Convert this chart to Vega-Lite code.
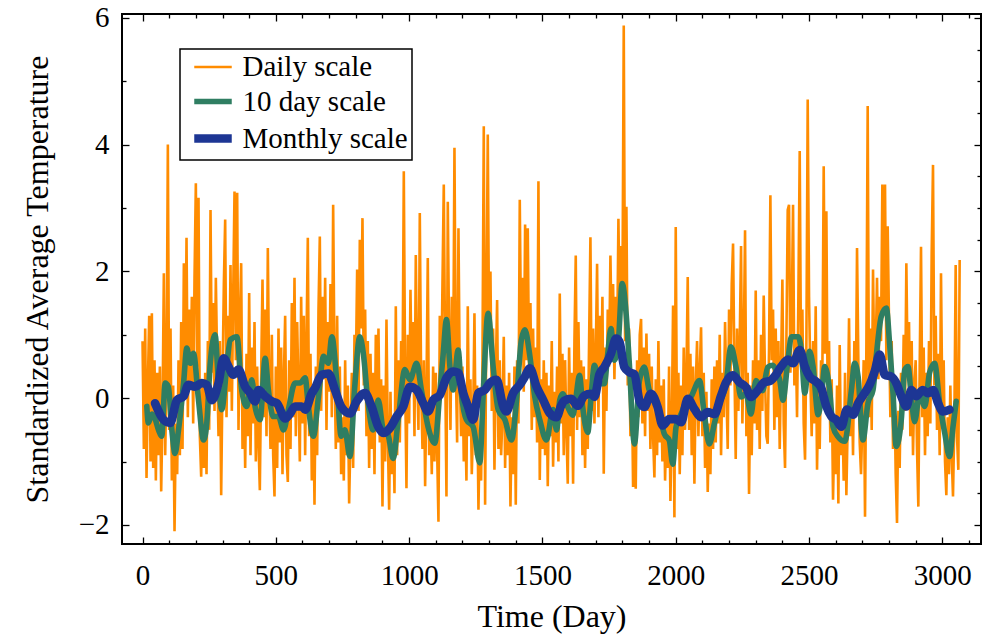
{
"$schema":"https://vega.github.io/schema/vega-lite/v6.json",
"width":859,"height":530,
"autosize":{"type":"none"},
"padding":{"left":122,"top":14,"right":6,"bottom":94},
"background":"white",
"config":{"view":{"stroke":"black","strokeWidth":2},
"legend":{"strokeWidth":1.5},
"axis":{"domain":false,"grid":false,"tickColor":"black","tickWidth":1.3,"labelFont":"Liberation Serif","labelFontSize":29,"labelColor":"black","titleFont":"Liberation Serif","titleFontSize":32,"titleFontWeight":"normal","titleColor":"black"}},
"datasets":{
"daily":[{"d":0,"v":0.9},{"d":5,"v":-0.8},{"d":10,"v":1.1},{"d":15,"v":-1.26},{"d":20,"v":0.2},{"d":25,"v":1.3},{"d":30,"v":-1.0},{"d":35,"v":1.34},{"d":40,"v":-1.1},{"d":45,"v":0.6},
{"d":50,"v":-1.3},{"d":55,"v":0.4},{"d":60,"v":-0.9},{"d":65,"v":0.5},{"d":70,"v":-1.47},{"d":75,"v":-0.2},{"d":80,"v":1.97},{"d":85,"v":-0.9},{"d":90,"v":0.3},{"d":95,"v":4.0},
{"d":100,"v":-0.5},{"d":105,"v":1.1},{"d":110,"v":-1.3},{"d":115,"v":0.2},{"d":120,"v":-2.1},{"d":125,"v":-0.4},{"d":130,"v":-1.2},{"d":135,"v":0.6},{"d":140,"v":-0.9},{"d":145,"v":1.2},
{"d":150,"v":-0.8},{"d":155,"v":2.13},{"d":160,"v":0.1},{"d":165,"v":2.53},{"d":170,"v":-0.3},{"d":175,"v":1.4},{"d":180,"v":0.2},{"d":185,"v":1.6},{"d":190,"v":-0.4},{"d":195,"v":1.9},
{"d":200,"v":3.39},{"d":205,"v":0.5},{"d":210,"v":3.16},{"d":215,"v":-0.6},{"d":220,"v":-1.24},{"d":225,"v":0.3},{"d":230,"v":-1.1},{"d":235,"v":0.4},{"d":240,"v":-1.2},{"d":245,"v":0.9},
{"d":250,"v":-0.5},{"d":255,"v":2.97},{"d":260,"v":0.4},{"d":265,"v":1.5},{"d":270,"v":-0.2},{"d":275,"v":1.9},{"d":280,"v":0.5},{"d":285,"v":-0.6},{"d":290,"v":0.9},{"d":295,"v":-1.53},
{"d":300,"v":0.3},{"d":305,"v":1.8},{"d":310,"v":2.82},{"d":315,"v":-0.3},{"d":320,"v":1.3},{"d":325,"v":0.1},{"d":330,"v":2.1},{"d":335,"v":-0.2},{"d":340,"v":1.6},{"d":345,"v":3.26},
{"d":350,"v":0.6},{"d":355,"v":3.24},{"d":360,"v":-0.5},{"d":365,"v":1.2},{"d":370,"v":2.13},{"d":375,"v":-0.8},{"d":380,"v":0.4},{"d":385,"v":-1.1},{"d":390,"v":0.7},{"d":395,"v":-0.6},
{"d":400,"v":1.66},{"d":405,"v":-0.9},{"d":410,"v":0.8},{"d":415,"v":-0.4},{"d":420,"v":1.2},{"d":425,"v":-1.0},{"d":430,"v":0.5},{"d":435,"v":-0.7},{"d":440,"v":-1.45},{"d":445,"v":0.4},
{"d":450,"v":1.87},{"d":455,"v":-0.3},{"d":460,"v":1.4},{"d":465,"v":-0.6},{"d":470,"v":2.37},{"d":475,"v":0.2},{"d":480,"v":-0.8},{"d":485,"v":1.0},{"d":490,"v":-0.9},{"d":495,"v":-1.55},
{"d":500,"v":0.5},{"d":505,"v":-1.1},{"d":510,"v":1.1},{"d":515,"v":-0.7},{"d":520,"v":0.8},{"d":525,"v":-1.2},{"d":530,"v":0.3},{"d":535,"v":1.3},{"d":540,"v":-0.9},{"d":545,"v":-1.32},
{"d":550,"v":0.6},{"d":555,"v":-0.8},{"d":560,"v":1.5},{"d":565,"v":-0.3},{"d":570,"v":1.9},{"d":575,"v":-0.6},{"d":580,"v":1.2},{"d":585,"v":0.1},{"d":590,"v":-1.0},{"d":595,"v":1.6},
{"d":600,"v":-0.4},{"d":605,"v":1.3},{"d":610,"v":-0.9},{"d":615,"v":0.9},{"d":620,"v":2.53},{"d":625,"v":-0.6},{"d":630,"v":0.7},{"d":635,"v":-1.3},{"d":640,"v":0.2},{"d":645,"v":-1.68},
{"d":650,"v":0.5},{"d":655,"v":-0.9},{"d":660,"v":1.4},{"d":665,"v":2.55},{"d":670,"v":-0.2},{"d":675,"v":1.6},{"d":680,"v":0.3},{"d":685,"v":1.9},{"d":690,"v":-0.5},{"d":695,"v":1.2},
{"d":700,"v":0.1},{"d":705,"v":1.8},{"d":710,"v":-0.3},{"d":715,"v":3.05},{"d":720,"v":0.6},{"d":725,"v":-0.8},{"d":730,"v":1.3},{"d":735,"v":-0.7},{"d":740,"v":0.5},{"d":745,"v":-1.2},
{"d":750,"v":-0.3},{"d":755,"v":-1.3},{"d":760,"v":0.6},{"d":765,"v":-0.9},{"d":770,"v":0.2},{"d":775,"v":-1.66},{"d":780,"v":-0.6},{"d":785,"v":0.4},{"d":790,"v":-1.1},{"d":795,"v":1.0},
{"d":800,"v":0.4},{"d":805,"v":2.03},{"d":810,"v":-0.2},{"d":815,"v":2.5},{"d":820,"v":1.1},{"d":825,"v":2.84},{"d":830,"v":0.2},{"d":835,"v":1.4},{"d":840,"v":-0.6},{"d":845,"v":0.9},
{"d":850,"v":-1.1},{"d":855,"v":0.7},{"d":860,"v":-0.8},{"d":865,"v":0.4},{"d":870,"v":-1.2},{"d":875,"v":1.0},{"d":880,"v":-0.5},{"d":885,"v":1.1},{"d":890,"v":-0.7},{"d":895,"v":0.3},
{"d":900,"v":-1.71},{"d":905,"v":0.2},{"d":910,"v":-1.0},{"d":915,"v":1.24},{"d":920,"v":-0.6},{"d":925,"v":-1.76},{"d":930,"v":0.1},{"d":935,"v":-1.2},{"d":940,"v":-0.3},{"d":945,"v":-1.5},
{"d":950,"v":1.45},{"d":955,"v":-0.9},{"d":960,"v":0.6},{"d":965,"v":-0.7},{"d":970,"v":0.9},{"d":975,"v":0.1},{"d":980,"v":3.58},{"d":985,"v":0.3},{"d":990,"v":-1.42},{"d":995,"v":1.0},
{"d":1000,"v":-0.4},{"d":1005,"v":1.71},{"d":1010,"v":0.1},{"d":1015,"v":1.2},{"d":1020,"v":-0.6},{"d":1025,"v":2.26},{"d":1030,"v":0.4},{"d":1035,"v":-0.5},{"d":1040,"v":2.92},{"d":1045,"v":0.2},
{"d":1050,"v":-0.8},{"d":1055,"v":0.6},{"d":1060,"v":-1.39},{"d":1065,"v":0.1},{"d":1070,"v":2.21},{"d":1075,"v":-0.9},{"d":1080,"v":-0.2},{"d":1085,"v":-1.2},{"d":1090,"v":0.5},{"d":1095,"v":-1.0},
{"d":1100,"v":0.4},{"d":1105,"v":-0.8},{"d":1110,"v":-1.95},{"d":1115,"v":1.3},{"d":1120,"v":0.1},{"d":1125,"v":1.8},{"d":1130,"v":3.37},{"d":1135,"v":0.6},{"d":1140,"v":-1.55},{"d":1145,"v":3.1},
{"d":1150,"v":0.9},{"d":1155,"v":-0.5},{"d":1160,"v":1.6},{"d":1165,"v":0.2},{"d":1170,"v":3.95},{"d":1175,"v":0.5},{"d":1180,"v":-0.7},{"d":1185,"v":2.68},{"d":1190,"v":0.3},{"d":1195,"v":-0.6},
{"d":1200,"v":0.5},{"d":1205,"v":-1.0},{"d":1210,"v":-0.2},{"d":1215,"v":-1.3},{"d":1220,"v":1.45},{"d":1225,"v":-0.6},{"d":1230,"v":0.3},{"d":1235,"v":-1.2},{"d":1240,"v":-0.4},{"d":1245,"v":1.34},
{"d":1250,"v":-0.9},{"d":1255,"v":0.2},{"d":1260,"v":-1.76},{"d":1265,"v":-0.5},{"d":1270,"v":-1.3},{"d":1275,"v":0.6},{"d":1280,"v":4.29},{"d":1285,"v":-1.68},{"d":1290,"v":1.5},{"d":1295,"v":4.16},
{"d":1300,"v":0.9},{"d":1305,"v":2.0},{"d":1310,"v":-0.2},{"d":1315,"v":1.1},{"d":1320,"v":-1.13},{"d":1325,"v":0.4},{"d":1330,"v":1.55},{"d":1335,"v":-0.8},{"d":1340,"v":0.6},{"d":1345,"v":-0.9},
{"d":1350,"v":-0.3},{"d":1355,"v":0.97},{"d":1360,"v":-1.1},{"d":1365,"v":0.2},{"d":1370,"v":-0.9},{"d":1375,"v":0.4},{"d":1380,"v":-1.71},{"d":1385,"v":-0.3},{"d":1390,"v":-1.2},{"d":1395,"v":0.5},
{"d":1400,"v":-1.68},{"d":1405,"v":0.6},{"d":1410,"v":-0.4},{"d":1415,"v":3.13},{"d":1420,"v":0.8},{"d":1425,"v":1.9},{"d":1430,"v":0.1},{"d":1435,"v":2.74},{"d":1440,"v":0.6},{"d":1445,"v":2.68},
{"d":1450,"v":0.4},{"d":1455,"v":1.5},{"d":1460,"v":-0.5},{"d":1465,"v":1.1},{"d":1470,"v":-0.3},{"d":1475,"v":0.8},{"d":1480,"v":-0.7},{"d":1485,"v":3.42},{"d":1490,"v":-1.29},{"d":1495,"v":0.3},
{"d":1500,"v":-0.8},{"d":1505,"v":0.6},{"d":1510,"v":-0.9},{"d":1515,"v":0.4},{"d":1520,"v":-1.39},{"d":1525,"v":0.2},{"d":1530,"v":-0.6},{"d":1535,"v":0.9},{"d":1540,"v":-1.08},{"d":1545,"v":0.1},
{"d":1550,"v":-0.7},{"d":1555,"v":0.5},{"d":1560,"v":-1.0},{"d":1565,"v":1.65},{"d":1570,"v":-0.4},{"d":1575,"v":0.7},{"d":1580,"v":-0.9},{"d":1585,"v":0.6},{"d":1590,"v":-0.5},{"d":1595,"v":-1.35},
{"d":1600,"v":0.8},{"d":1605,"v":-0.6},{"d":1610,"v":0.4},{"d":1615,"v":-1.35},{"d":1620,"v":0.9},{"d":1625,"v":2.25},{"d":1630,"v":-0.5},{"d":1635,"v":1.2},{"d":1640,"v":-0.3},{"d":1645,"v":0.6},
{"d":1650,"v":-0.9},{"d":1655,"v":0.5},{"d":1660,"v":-1.1},{"d":1665,"v":0.3},{"d":1670,"v":-0.8},{"d":1675,"v":0.9},{"d":1680,"v":2.54},{"d":1685,"v":-0.2},{"d":1690,"v":1.1},{"d":1695,"v":-0.4},
{"d":1700,"v":0.7},{"d":1705,"v":2.12},{"d":1710,"v":-0.3},{"d":1715,"v":1.3},{"d":1720,"v":0.2},{"d":1725,"v":1.6},{"d":1730,"v":-1.19},{"d":1735,"v":0.8},{"d":1740,"v":-0.2},{"d":1745,"v":1.4},
{"d":1750,"v":0.5},{"d":1755,"v":2.25},{"d":1760,"v":0.9},{"d":1765,"v":1.8},{"d":1770,"v":0.3},{"d":1775,"v":1.6},{"d":1780,"v":0.7},{"d":1785,"v":2.83},{"d":1790,"v":1.2},{"d":1795,"v":2.4},
{"d":1800,"v":1.5},{"d":1805,"v":5.88},{"d":1810,"v":0.9},{"d":1815,"v":3.02},{"d":1820,"v":0.2},{"d":1825,"v":1.1},{"d":1830,"v":-0.6},{"d":1835,"v":0.4},{"d":1840,"v":-1.4},{"d":1845,"v":-0.5},
{"d":1850,"v":-1.43},{"d":1855,"v":0.6},{"d":1860,"v":-0.3},{"d":1865,"v":1.0},{"d":1870,"v":1.25},{"d":1875,"v":-0.4},{"d":1880,"v":0.8},{"d":1885,"v":-0.6},{"d":1890,"v":1.02},{"d":1895,"v":-0.2},
{"d":1900,"v":0.7},{"d":1905,"v":-0.8},{"d":1910,"v":0.5},{"d":1915,"v":-0.6},{"d":1920,"v":-1.25},{"d":1925,"v":0.3},{"d":1930,"v":-0.9},{"d":1935,"v":0.9},{"d":1940,"v":-0.7},{"d":1945,"v":0.2},
{"d":1950,"v":-1.0},{"d":1955,"v":0.3},{"d":1960,"v":-1.3},{"d":1965,"v":-0.4},{"d":1970,"v":-1.1},{"d":1975,"v":0.5},{"d":1980,"v":-1.62},{"d":1985,"v":-0.5},{"d":1990,"v":1.46},{"d":1995,"v":-1.88},
{"d":2000,"v":2.7},{"d":2005,"v":-0.8},{"d":2010,"v":0.4},{"d":2015,"v":-1.2},{"d":2020,"v":0.2},{"d":2025,"v":-0.9},{"d":2030,"v":0.8},{"d":2035,"v":-0.5},{"d":2040,"v":0.3},{"d":2045,"v":1.91},
{"d":2050,"v":-0.5},{"d":2055,"v":0.7},{"d":2060,"v":-0.9},{"d":2065,"v":0.5},{"d":2070,"v":-1.35},{"d":2075,"v":0.2},{"d":2080,"v":0.9},{"d":2085,"v":-0.6},{"d":2090,"v":0.4},{"d":2095,"v":1.12},
{"d":2100,"v":-0.6},{"d":2105,"v":0.4},{"d":2110,"v":-1.1},{"d":2115,"v":0.1},{"d":2120,"v":-1.48},{"d":2125,"v":-0.4},{"d":2130,"v":-1.2},{"d":2135,"v":0.3},{"d":2140,"v":-0.8},{"d":2145,"v":0.5},
{"d":2150,"v":-0.7},{"d":2155,"v":0.6},{"d":2160,"v":-0.4},{"d":2165,"v":1.0},{"d":2170,"v":-0.9},{"d":2175,"v":0.4},{"d":2180,"v":-0.3},{"d":2185,"v":1.2},{"d":2190,"v":0.1},{"d":2195,"v":-0.8},
{"d":2200,"v":1.4},{"d":2205,"v":0.2},{"d":2210,"v":1.8},{"d":2215,"v":2.44},{"d":2220,"v":0.5},{"d":2225,"v":-0.96},{"d":2230,"v":1.1},{"d":2235,"v":-0.2},{"d":2240,"v":0.9},{"d":2245,"v":2.4},
{"d":2250,"v":-0.4},{"d":2255,"v":0.8},{"d":2260,"v":2.65},{"d":2265,"v":-0.6},{"d":2270,"v":0.4},{"d":2275,"v":-1.51},{"d":2280,"v":0.2},{"d":2285,"v":-0.9},{"d":2290,"v":0.6},{"d":2295,"v":-0.4},
{"d":2300,"v":1.7},{"d":2305,"v":-0.5},{"d":2310,"v":0.6},{"d":2315,"v":-0.8},{"d":2320,"v":1.0},{"d":2325,"v":-0.2},{"d":2330,"v":1.62},{"d":2335,"v":0.3},{"d":2340,"v":-0.6},{"d":2345,"v":-0.72},
{"d":2350,"v":0.8},{"d":2355,"v":3.2},{"d":2360,"v":0.6},{"d":2365,"v":1.4},{"d":2370,"v":-0.5},{"d":2375,"v":1.1},{"d":2380,"v":-0.3},{"d":2385,"v":0.9},{"d":2390,"v":-0.8},{"d":2395,"v":0.5},
{"d":2400,"v":1.87},{"d":2405,"v":-0.4},{"d":2410,"v":-1.1},{"d":2415,"v":0.9},{"d":2420,"v":2.97},{"d":2425,"v":3.05},{"d":2430,"v":0.4},{"d":2435,"v":1.3},{"d":2440,"v":3.05},{"d":2445,"v":0.2},
{"d":2450,"v":1.0},{"d":2455,"v":-0.3},{"d":2460,"v":1.6},{"d":2465,"v":3.9},{"d":2470,"v":0.5},{"d":2475,"v":1.4},{"d":2480,"v":-0.4},{"d":2485,"v":-0.97},{"d":2490,"v":0.8},{"d":2495,"v":4.71},
{"d":2500,"v":1.6},{"d":2505,"v":0.3},{"d":2510,"v":-0.6},{"d":2515,"v":0.9},{"d":2520,"v":-0.4},{"d":2525,"v":1.45},{"d":2530,"v":-1.13},{"d":2535,"v":0.2},{"d":2540,"v":-0.8},{"d":2545,"v":0.6},
{"d":2550,"v":0.4},{"d":2555,"v":3.66},{"d":2560,"v":0.7},{"d":2565,"v":2.95},{"d":2570,"v":-0.2},{"d":2575,"v":0.9},{"d":2580,"v":-0.7},{"d":2585,"v":0.3},{"d":2590,"v":-1.6},{"d":2595,"v":-0.5},
{"d":2600,"v":-1.2},{"d":2605,"v":0.2},{"d":2610,"v":-1.66},{"d":2615,"v":0.84},{"d":2620,"v":-0.9},{"d":2625,"v":-0.2},{"d":2630,"v":-1.3},{"d":2635,"v":0.4},{"d":2640,"v":-1.53},{"d":2645,"v":-0.4},
{"d":2650,"v":1.26},{"d":2655,"v":-0.6},{"d":2660,"v":0.5},{"d":2665,"v":-0.9},{"d":2670,"v":0.9},{"d":2675,"v":-0.2},{"d":2680,"v":2.37},{"d":2685,"v":0.6},{"d":2690,"v":-0.7},{"d":2695,"v":-1.2},
{"d":2700,"v":-0.4},{"d":2705,"v":0.6},{"d":2710,"v":-1.87},{"d":2715,"v":0.8},{"d":2720,"v":4.61},{"d":2725,"v":-0.3},{"d":2730,"v":1.1},{"d":2735,"v":-0.5},{"d":2740,"v":2.03},{"d":2745,"v":0.4},
{"d":2750,"v":0.7},{"d":2755,"v":1.9},{"d":2760,"v":0.3},{"d":2765,"v":1.6},{"d":2770,"v":0.9},{"d":2775,"v":3.37},{"d":2780,"v":1.4},{"d":2785,"v":3.37},{"d":2790,"v":0.6},{"d":2795,"v":2.71},
{"d":2800,"v":1.2},{"d":2805,"v":-0.3},{"d":2810,"v":0.9},{"d":2815,"v":-0.8},{"d":2820,"v":0.3},{"d":2825,"v":-1.2},{"d":2830,"v":-1.97},{"d":2835,"v":-0.2},{"d":2840,"v":-1.1},{"d":2845,"v":0.4},
{"d":2850,"v":-0.5},{"d":2855,"v":1.0},{"d":2860,"v":-0.2},{"d":2865,"v":2.13},{"d":2870,"v":0.4},{"d":2875,"v":1.2},{"d":2880,"v":-0.6},{"d":2885,"v":0.9},{"d":2890,"v":-0.9},{"d":2895,"v":0.2},
{"d":2900,"v":0.6},{"d":2905,"v":-0.8},{"d":2910,"v":-1.71},{"d":2915,"v":0.5},{"d":2920,"v":2.39},{"d":2925,"v":-0.3},{"d":2930,"v":0.8},{"d":2935,"v":-0.9},{"d":2940,"v":0.4},{"d":2945,"v":-0.6},
{"d":2950,"v":0.9},{"d":2955,"v":-0.4},{"d":2960,"v":2.29},{"d":2965,"v":3.68},{"d":2970,"v":0.2},{"d":2975,"v":1.3},{"d":2980,"v":-0.5},{"d":2985,"v":0.7},{"d":2990,"v":-0.9},{"d":2995,"v":1.97},
{"d":3000,"v":-0.2},{"d":3005,"v":0.6},{"d":3010,"v":-1.0},{"d":3015,"v":-1.53},{"d":3020,"v":-0.3},{"d":3025,"v":-1.2},{"d":3030,"v":0.2},{"d":3035,"v":-0.9},{"d":3040,"v":-1.55},{"d":3045,"v":-0.4},
{"d":3050,"v":2.1},{"d":3055,"v":-0.6},{"d":3060,"v":-1.13},{"d":3065,"v":2.18}],
"tenday":[{"d":16,"v":-0.13},{"d":22,"v":-0.39},{"d":35,"v":-0.25},{"d":45,"v":-0.3},{"d":60,"v":-0.5},{"d":72,"v":-0.6},{"d":85,"v":0.24},{"d":97,"v":0.18},{"d":110,"v":-0.5},{"d":122,"v":-0.87},{"d":135,"v":-0.5},{"d":154,"v":0.24},{"d":166,"v":0.79},{"d":179,"v":0.55},{"d":191,"v":0.71},{"d":210,"v":-0.03},{"d":229,"v":-0.66},{"d":241,"v":-0.39},{"d":254,"v":0.55},{"d":272,"v":1.0},{"d":285,"v":0.24},{"d":297,"v":-0.18},{"d":316,"v":0.5},{"d":329,"v":0.92},{"d":354,"v":0.97},{"d":372,"v":0.13},{"d":391,"v":-0.13},{"d":410,"v":0.29},{"d":422,"v":-0.13},{"d":441,"v":-0.34},{"d":460,"v":0.63},{"d":472,"v":0.13},{"d":491,"v":-0.29},{"d":510,"v":-0.29},{"d":529,"v":-0.5},{"d":547,"v":-0.18},{"d":572,"v":0.24},{"d":591,"v":0.24},{"d":610,"v":0.32},{"d":622,"v":-0.13},{"d":641,"v":-0.6},{"d":660,"v":0.03},{"d":679,"v":0.66},{"d":697,"v":0.55},{"d":710,"v":0.97},{"d":729,"v":0.24},{"d":745,"v":-0.6},{"d":759,"v":-0.5},{"d":778,"v":-0.92},{"d":796,"v":0.18},{"d":815,"v":0.97},{"d":828,"v":0.71},{"d":846,"v":-0.08},{"d":865,"v":-0.5},{"d":884,"v":-0.03},{"d":903,"v":-0.5},{"d":921,"v":-0.58},{"d":940,"v":-0.95},{"d":959,"v":-0.34},{"d":984,"v":0.45},{"d":1003,"v":0.29},{"d":1028,"v":0.55},{"d":1046,"v":0.13},{"d":1071,"v":-0.45},{"d":1096,"v":-0.71},{"d":1115,"v":0.08},{"d":1128,"v":0.71},{"d":1140,"v":1.24},{"d":1153,"v":0.5},{"d":1165,"v":0.13},{"d":1184,"v":0.76},{"d":1196,"v":0.08},{"d":1215,"v":-0.34},{"d":1240,"v":-0.45},{"d":1265,"v":-1.02},{"d":1278,"v":0.08},{"d":1296,"v":1.34},{"d":1315,"v":0.5},{"d":1334,"v":-0.18},{"d":1359,"v":-0.34},{"d":1384,"v":-0.66},{"d":1403,"v":-0.03},{"d":1421,"v":0.92},{"d":1434,"v":1.08},{"d":1453,"v":0.66},{"d":1471,"v":0.03},{"d":1490,"v":-0.34},{"d":1515,"v":-0.66},{"d":1540,"v":-0.18},{"d":1553,"v":-0.5},{"d":1565,"v":-0.03},{"d":1576,"v":0.07},{"d":1595,"v":-0.14},{"d":1614,"v":-0.27},{"d":1626,"v":0.02},{"d":1639,"v":0.36},{"d":1651,"v":-0.14},{"d":1670,"v":-0.54},{"d":1682,"v":0.0},{"d":1695,"v":0.52},{"d":1714,"v":0.23},{"d":1732,"v":0.23},{"d":1745,"v":0.7},{"d":1757,"v":1.1},{"d":1770,"v":0.6},{"d":1785,"v":0.9},{"d":1799,"v":1.81},{"d":1814,"v":1.33},{"d":1826,"v":0.54},{"d":1845,"v":-0.72},{"d":1864,"v":0.28},{"d":1882,"v":0.49},{"d":1901,"v":0.12},{"d":1920,"v":0.02},{"d":1939,"v":-0.25},{"d":1957,"v":-0.56},{"d":1976,"v":-0.67},{"d":1989,"v":-1.04},{"d":2001,"v":-0.46},{"d":2020,"v":-0.25},{"d":2039,"v":-0.06},{"d":2057,"v":0.02},{"d":2089,"v":0.28},{"d":2107,"v":-0.25},{"d":2126,"v":-0.72},{"d":2145,"v":-0.4},{"d":2164,"v":-0.09},{"d":2189,"v":0.23},{"d":2207,"v":0.81},{"d":2226,"v":0.49},{"d":2245,"v":0.02},{"d":2264,"v":0.07},{"d":2282,"v":-0.25},{"d":2301,"v":0.28},{"d":2326,"v":0.12},{"d":2345,"v":0.49},{"d":2364,"v":0.52},{"d":2380,"v":0.4},{"d":2390,"v":0.29},{"d":2402,"v":-0.03},{"d":2421,"v":0.61},{"d":2434,"v":0.97},{"d":2459,"v":0.97},{"d":2471,"v":0.76},{"d":2484,"v":0.08},{"d":2502,"v":0.74},{"d":2515,"v":0.5},{"d":2534,"v":-0.26},{"d":2546,"v":0.0},{"d":2559,"v":0.5},{"d":2577,"v":0.13},{"d":2590,"v":-0.45},{"d":2609,"v":-0.61},{"d":2634,"v":-0.68},{"d":2659,"v":0.13},{"d":2671,"v":0.55},{"d":2684,"v":0.34},{"d":2702,"v":-0.66},{"d":2721,"v":-0.08},{"d":2740,"v":0.13},{"d":2752,"v":0.66},{"d":2771,"v":1.29},{"d":2790,"v":1.42},{"d":2802,"v":0.87},{"d":2815,"v":0.08},{"d":2827,"v":-0.76},{"d":2846,"v":-0.34},{"d":2859,"v":0.45},{"d":2871,"v":0.5},{"d":2884,"v":0.0},{"d":2896,"v":-0.37},{"d":2915,"v":0.08},{"d":2934,"v":-0.13},{"d":2952,"v":0.4},{"d":2971,"v":0.55},{"d":2990,"v":-0.08},{"d":3009,"v":-0.55},{"d":3027,"v":-0.92},{"d":3040,"v":-0.45},{"d":3052,"v":-0.05}],
"monthly":[{"d":47,"v":-0.08},{"d":79,"v":-0.34},{"d":104,"v":-0.39},{"d":129,"v":-0.03},{"d":154,"v":0.03},{"d":172,"v":0.21},{"d":197,"v":0.18},{"d":222,"v":0.24},{"d":241,"v":0.21},{"d":260,"v":-0.03},{"d":285,"v":0.24},{"d":304,"v":0.63},{"d":322,"v":0.5},{"d":341,"v":0.37},{"d":360,"v":0.45},{"d":385,"v":0.18},{"d":404,"v":0.08},{"d":422,"v":-0.05},{"d":435,"v":0.13},{"d":460,"v":0.03},{"d":485,"v":-0.05},{"d":504,"v":-0.08},{"d":535,"v":-0.32},{"d":554,"v":-0.24},{"d":572,"v":-0.13},{"d":597,"v":-0.13},{"d":610,"v":-0.18},{"d":635,"v":0.08},{"d":647,"v":0.16},{"d":672,"v":0.37},{"d":697,"v":0.39},{"d":722,"v":0.13},{"d":745,"v":-0.13},{"d":778,"v":-0.24},{"d":803,"v":-0.05},{"d":834,"v":0.08},{"d":859,"v":-0.13},{"d":884,"v":-0.45},{"d":903,"v":-0.55},{"d":928,"v":-0.47},{"d":953,"v":-0.29},{"d":978,"v":-0.13},{"d":1003,"v":0.18},{"d":1028,"v":0.13},{"d":1053,"v":-0.08},{"d":1071,"v":-0.21},{"d":1090,"v":-0.03},{"d":1115,"v":0.05},{"d":1140,"v":0.32},{"d":1165,"v":0.42},{"d":1184,"v":0.4},{"d":1203,"v":0.08},{"d":1221,"v":-0.13},{"d":1240,"v":-0.34},{"d":1259,"v":0.08},{"d":1284,"v":0.13},{"d":1303,"v":0.24},{"d":1328,"v":0.29},{"d":1353,"v":-0.13},{"d":1365,"v":-0.21},{"d":1390,"v":0.08},{"d":1415,"v":0.21},{"d":1434,"v":0.34},{"d":1453,"v":0.47},{"d":1478,"v":0.18},{"d":1503,"v":-0.03},{"d":1528,"v":-0.24},{"d":1553,"v":-0.3},{"d":1570,"v":-0.12},{"d":1582,"v":-0.04},{"d":1607,"v":-0.01},{"d":1632,"v":-0.12},{"d":1657,"v":0.04},{"d":1682,"v":0.07},{"d":1695,"v":0.02},{"d":1714,"v":0.38},{"d":1732,"v":0.49},{"d":1757,"v":0.7},{"d":1776,"v":0.94},{"d":1789,"v":0.89},{"d":1807,"v":0.49},{"d":1826,"v":0.41},{"d":1845,"v":0.38},{"d":1864,"v":-0.04},{"d":1882,"v":-0.14},{"d":1907,"v":0.07},{"d":1932,"v":-0.14},{"d":1951,"v":-0.43},{"d":1976,"v":-0.33},{"d":2001,"v":-0.33},{"d":2020,"v":-0.38},{"d":2045,"v":-0.01},{"d":2070,"v":-0.17},{"d":2095,"v":-0.3},{"d":2120,"v":-0.22},{"d":2145,"v":-0.25},{"d":2170,"v":0.04},{"d":2189,"v":0.25},{"d":2214,"v":0.36},{"d":2239,"v":0.25},{"d":2264,"v":0.17},{"d":2282,"v":0.02},{"d":2307,"v":0.12},{"d":2332,"v":0.25},{"d":2357,"v":0.28},{"d":2374,"v":0.36},{"d":2396,"v":0.5},{"d":2421,"v":0.61},{"d":2440,"v":0.55},{"d":2465,"v":0.76},{"d":2484,"v":0.5},{"d":2502,"v":0.34},{"d":2527,"v":0.26},{"d":2546,"v":0.16},{"d":2565,"v":-0.13},{"d":2584,"v":-0.29},{"d":2602,"v":-0.34},{"d":2621,"v":-0.45},{"d":2642,"v":-0.18},{"d":2665,"v":-0.26},{"d":2684,"v":-0.08},{"d":2709,"v":0.08},{"d":2727,"v":0.21},{"d":2746,"v":0.42},{"d":2765,"v":0.69},{"d":2784,"v":0.37},{"d":2809,"v":0.34},{"d":2827,"v":0.24},{"d":2846,"v":0.03},{"d":2865,"v":-0.13},{"d":2884,"v":0.13},{"d":2902,"v":0.03},{"d":2927,"v":0.13},{"d":2946,"v":0.08},{"d":2965,"v":0.13},{"d":2984,"v":-0.08},{"d":3002,"v":-0.21},{"d":3027,"v":-0.18}]
},
"layer":[
{"data":{"name":"daily"},
"mark":{"type":"line","strokeJoin":"miter","clip":true},
"encoding":{
"x":{"field":"d","type":"quantitative","scale":{"domain":[-77,3145],"nice":false,"zero":false},
"axis":{"orient":"bottom","title":"Time (Day)","values":[0,100,200,300,400,500,600,700,800,900,1000,1100,1200,1300,1400,1500,1600,1700,1800,1900,2000,2100,2200,2300,2400,2500,2600,2700,2800,2900,3000,3100],"format":"d","labelExpr":"datum.value % 500 === 0 ? datum.label : ''","tickSize":{"condition":{"test":"datum.value % 500 === 0","value":-7},"value":-4},"labelPadding":24,"titlePadding":11}},
"y":{"field":"v","type":"quantitative","scale":{"domain":[-2.3,6.06],"nice":false,"zero":false},
"axis":{"orient":"left","title":"Standardized Average Temperature","values":[-2,-1.5,-1,-0.5,0,0.5,1,1.5,2,2.5,3,3.5,4,4.5,5,5.5,6],"format":"d","labelExpr":"datum.value % 2 === 0 ? datum.label : ''","tickSize":{"condition":{"test":"datum.value % 2 === 0","value":-7},"value":-4},"labelPadding":20,"titlePadding":24}},
"color":{"datum":"Daily scale","type":"nominal","scale":{"domain":["Daily scale","10 day scale","Monthly scale"],"range":["#FF8C00","#2F7E62","#1D3694"]},
"legend":{"title":null,"orient":"none","legendX":58,"legendY":35,"symbolType":"M-0.5,0H2.5","symbolSize":625,"symbolOpacity":1,"labelFont":"Liberation Serif","labelFontSize":29,"labelColor":"black","labelLimit":400,"labelOffset":25,"rowPadding":3.5,"padding":3.5,"fillColor":"white","strokeColor":"black"}},
"strokeWidth":{"datum":"Daily scale","type":"nominal","scale":{"domain":["Daily scale","10 day scale","Monthly scale"],"range":[2.6,8.6]},"legend":{"title":null,"orient":"none","legendX":58,"legendY":35,"symbolType":"M-0.5,0H2.5","symbolSize":625,"labelFont":"Liberation Serif","labelFontSize":29,"labelColor":"black","labelLimit":400,"labelOffset":25,"rowPadding":3.5,"padding":3.5,"fillColor":"white","strokeColor":"black"}}}},
{"data":{"name":"tenday"},
"mark":{"type":"line","strokeJoin":"round","strokeCap":"round","interpolate":"monotone"},
"encoding":{
"x":{"field":"d","type":"quantitative","scale":{"domain":[-77,3145],"nice":false,"zero":false},
"axis":{"orient":"top","title":null,"labels":false,"values":[0,100,200,300,400,500,600,700,800,900,1000,1100,1200,1300,1400,1500,1600,1700,1800,1900,2000,2100,2200,2300,2400,2500,2600,2700,2800,2900,3000,3100],"tickSize":{"condition":{"test":"datum.value % 500 === 0","value":-7},"value":-4}}},
"y":{"field":"v","type":"quantitative","scale":{"domain":[-2.3,6.06],"nice":false,"zero":false},
"axis":{"orient":"right","title":null,"labels":false,"values":[-2,-1.5,-1,-0.5,0,0.5,1,1.5,2,2.5,3,3.5,4,4.5,5,5.5,6],"tickSize":{"condition":{"test":"datum.value % 2 === 0","value":-7},"value":-4}}},
"color":{"datum":"10 day scale","type":"nominal"},
"strokeWidth":{"datum":"10 day scale","type":"nominal"}}},
{"data":{"name":"monthly"},
"mark":{"type":"line","strokeJoin":"round","strokeCap":"round","interpolate":"monotone"},
"encoding":{
"x":{"field":"d","type":"quantitative","scale":{"domain":[-77,3145],"nice":false,"zero":false},"axis":null},
"y":{"field":"v","type":"quantitative","scale":{"domain":[-2.3,6.06],"nice":false,"zero":false},"axis":null},
"color":{"datum":"Monthly scale","type":"nominal"},
"strokeWidth":{"datum":"Monthly scale","type":"nominal"}}}
],
"resolve":{"scale":{"x":"independent","y":"independent"},"axis":{"x":"independent","y":"independent"}}
}
